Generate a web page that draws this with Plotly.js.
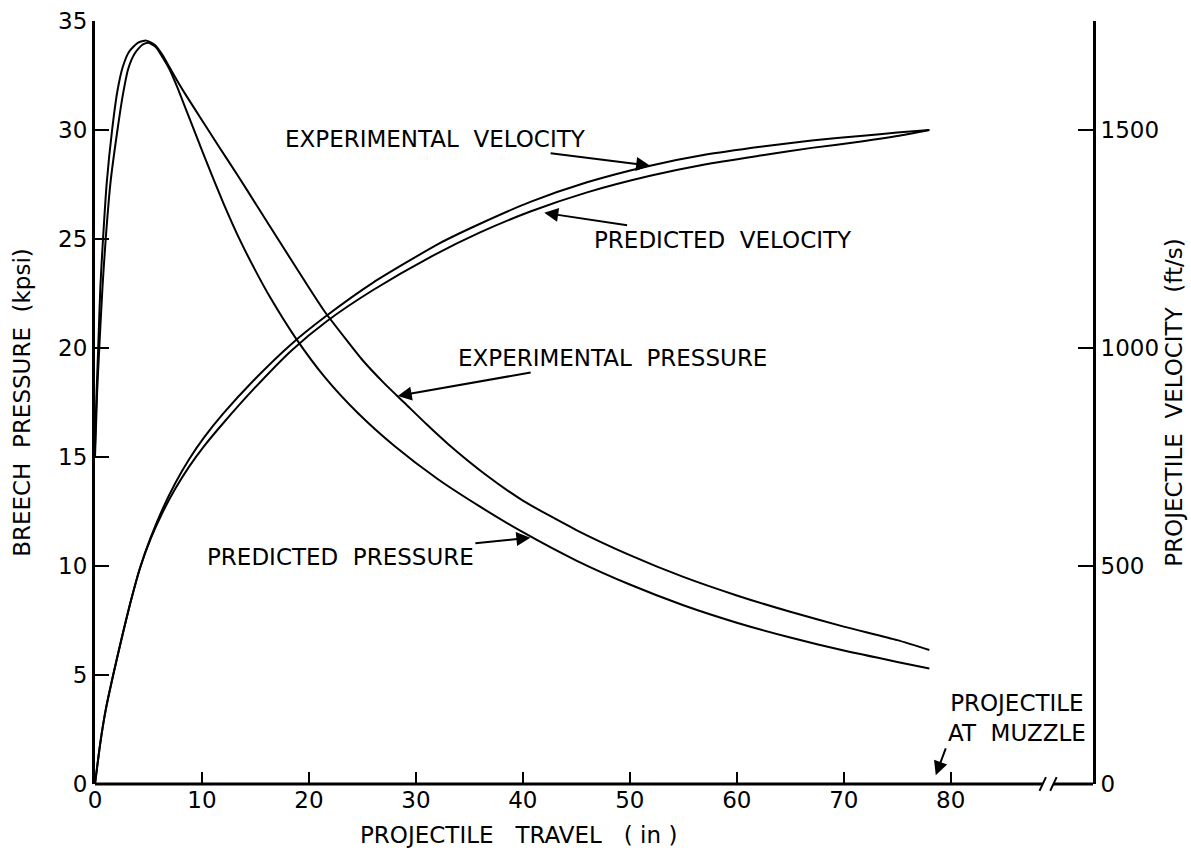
<!DOCTYPE html>
<html><head><meta charset="utf-8">
<script src="https://cdn.plot.ly/plotly-3.0.1.min.js"></script>
<style>html,body{margin:0;padding:0;background:#fff}#chart{width:1191px;height:855px}</style>
</head><body><div id="chart"></div>
<script>
// Projectile travel (in) and breech pressure (kpsi)
const travelExpPressure = [0,0.15,0.3,0.5,0.75,1.1,1.6,2.1,2.6,3.2,4.0,4.8,5.6,6.3,7.0,7.7,8.5,10.0,11.5,13.3,15.3,17.3,19.5,21.5,23.3,25.0,27.0,29.0,31.0,33.0,36.5,40.0,45.0,50.0,55.0,60.0,65.0,70.0,75.0,78.0];
const expPressure = [15.5,18,20,22.8,25,27.6,30,31.8,32.9,33.6,34.0,34.1,33.9,33.45,32.85,32.25,31.6,30.45,29.3,27.95,26.4,24.85,23.15,21.65,20.5,19.45,18.4,17.45,16.5,15.6,14.2,13.0,11.65,10.5,9.5,8.65,7.9,7.22,6.6,6.15];

const travelPredPressure = [0,0.2,0.4,0.7,1.0,1.45,2.1,2.6,3.1,3.7,4.4,5.0,5.7,6.3,7.0,7.7,8.5,9.5,10.7,12.0,13.6,15.0,16.4,18.7,21.5,24.5,28.0,32.0,36.0,40.0,45.0,50.0,55.0,60.0,65.0,70.0,75.0,78.0];
const predPressure = [15.0,18,20,22.8,25,27.6,30,31.6,32.8,33.5,33.9,34.0,33.8,33.35,32.75,31.95,30.95,29.7,28.2,26.65,24.9,23.55,22.3,20.5,18.65,17.05,15.5,14.0,12.72,11.55,10.25,9.15,8.2,7.4,6.72,6.12,5.6,5.3];

// Projectile travel (in) and velocity (ft/s)
const travelExpVelocity = [0,0.5,1.0,1.7,2.5,3.3,4.2,5.2,6.3,7.5,8.8,10.2,12.0,14.8,18.4,21.7,26.0,32.2,36.0,40.7,46.0,51.9,57.0,62.4,67.0,71.8,75.0,78.0];
const expVelocity = [0,95,170,250,335,415,495,565,630,690,745,795,850,925,1010,1075,1150,1240,1285,1335,1380,1418,1443,1462,1476,1487,1494,1500];

const travelPredVelocity = [0,0.5,1.0,1.7,2.5,3.3,4.2,5.2,6.3,7.5,8.8,10.2,12.0,14.8,18.4,21.7,26.0,31.3,36.0,40.7,46.0,51.9,57.0,62.4,67.0,71.8,75.0,78.0];
const predVelocity = [0,95,170,250,335,415,495,562,622,677,728,775,828,905,995,1062,1133,1208,1265,1313,1357,1395,1421,1442,1459,1474,1486,1500];

const xTicks = [0,10,20,30,40,50,60,70,80];
const pressureTicks = [0,5,10,15,20,25,30,35];
const velocityTicks = [0,500,1000,1500];

const FONT = 'DejaVu Sans';
const FS = 23;
const lineStyle = {color:'#000', width:2, shape:'spline', smoothing:0.6};

const traces = [
  {x:travelExpPressure, y:expPressure, type:'scatter', mode:'lines', line:lineStyle, name:'Experimental pressure', yaxis:'y'},
  {x:travelPredPressure, y:predPressure, type:'scatter', mode:'lines', line:lineStyle, name:'Predicted pressure', yaxis:'y'},
  {x:travelExpVelocity, y:expVelocity, type:'scatter', mode:'lines', line:lineStyle, name:'Experimental velocity', yaxis:'y2'},
  {x:travelPredVelocity, y:predVelocity, type:'scatter', mode:'lines', line:lineStyle, name:'Predicted velocity', yaxis:'y2'}
];

const arrowCommon = {showarrow:true, arrowhead:2, arrowsize:1.4, arrowwidth:2, arrowcolor:'#000', font:{family:FONT, size:FS, color:'#000'}};

const layout = {
  width:1191, height:855,
  margin:{l:95, r:98, t:21, b:71},
  paper_bgcolor:'#fff', plot_bgcolor:'#fff',
  showlegend:false,
  font:{family:FONT, size:FS, color:'#000'},
  xaxis:{range:[0,93.3], tickvals:xTicks, ticktext:xTicks.map(String), ticks:'inside', ticklen:12, tickwidth:2, tickcolor:'#000',
         showline:false, showgrid:false, zeroline:false, tickfont:{family:FONT, size:FS}},
  yaxis:{range:[0,35], tickvals:pressureTicks, ticks:'inside', ticklen:14, tickwidth:2, tickcolor:'#000',
         showline:true, linewidth:3, linecolor:'#000', showgrid:false, zeroline:false,
         tickfont:{family:FONT, size:FS},
         title:{text:'BREECH\u00A0 PRESSURE\u00A0 (kpsi)', standoff:22, font:{family:FONT, size:FS}}},
  yaxis2:{range:[0,1750], overlaying:'y', side:'right', anchor:'x', tickvals:velocityTicks, ticks:'inside', ticklen:15, tickwidth:2, tickcolor:'#000',
         showline:true, linewidth:3, linecolor:'#000', showgrid:false, zeroline:false,
         tickfont:{family:FONT, size:FS},
         title:{text:'PROJECTILE\u00A0 VELOCITY\u00A0 (ft/s)', standoff:8, font:{family:FONT, size:FS}}},
  shapes:[
    {type:'line', xref:'x', yref:'paper', x0:0, x1:88.6, y0:0, y1:0, line:{color:'#000', width:3}},
    {type:'line', xref:'x', yref:'paper', x0:89.6, x1:93.3, y0:0, y1:0, line:{color:'#000', width:3}},
    {type:'line', xref:'x', yref:'paper', x0:88.3, x1:88.9, y0:-0.009, y1:0.009, line:{color:'#000', width:2}},
    {type:'line', xref:'x', yref:'paper', x0:89.3, x1:89.9, y0:-0.009, y1:0.009, line:{color:'#000', width:2}}
  ],
  annotations:[
    Object.assign({text:'EXPERIMENTAL\u00A0 VELOCITY', xref:'x', yref:'y2', x:51.9, y:1418, ax:-215, ay:-27}, arrowCommon),
    Object.assign({text:'PREDICTED\u00A0 VELOCITY', xref:'x', yref:'y2', x:42.0, y:1310, ax:179, ay:27}, arrowCommon),
    Object.assign({text:'EXPERIMENTAL\u00A0 PRESSURE', xref:'x', yref:'y', x:28.3, y:17.8, ax:215, ay:-38}, arrowCommon),
    Object.assign({text:'PREDICTED\u00A0 PRESSURE', xref:'x', yref:'y', x:40.7, y:11.3, ax:-190, ay:19}, arrowCommon),
    Object.assign({text:'PROJECTILE<br>AT\u00A0 MUZZLE', xref:'x', yref:'y', x:78.6, y:0.4, ax:10, ay:-27, xanchor:'left', yanchor:'bottom'}, arrowCommon),
    {text:'PROJECTILE\u00A0\u00A0 TRAVEL\u00A0\u00A0 (\u00A0in\u00A0)', xref:'paper', yref:'paper', x:0.424, y:-0.067, showarrow:false,
     xanchor:'center', yanchor:'middle', font:{family:FONT, size:FS, color:'#000'}}
  ]
};

Plotly.newPlot('chart', traces, layout, {displayModeBar:false, staticPlot:true});
</script></body></html>
